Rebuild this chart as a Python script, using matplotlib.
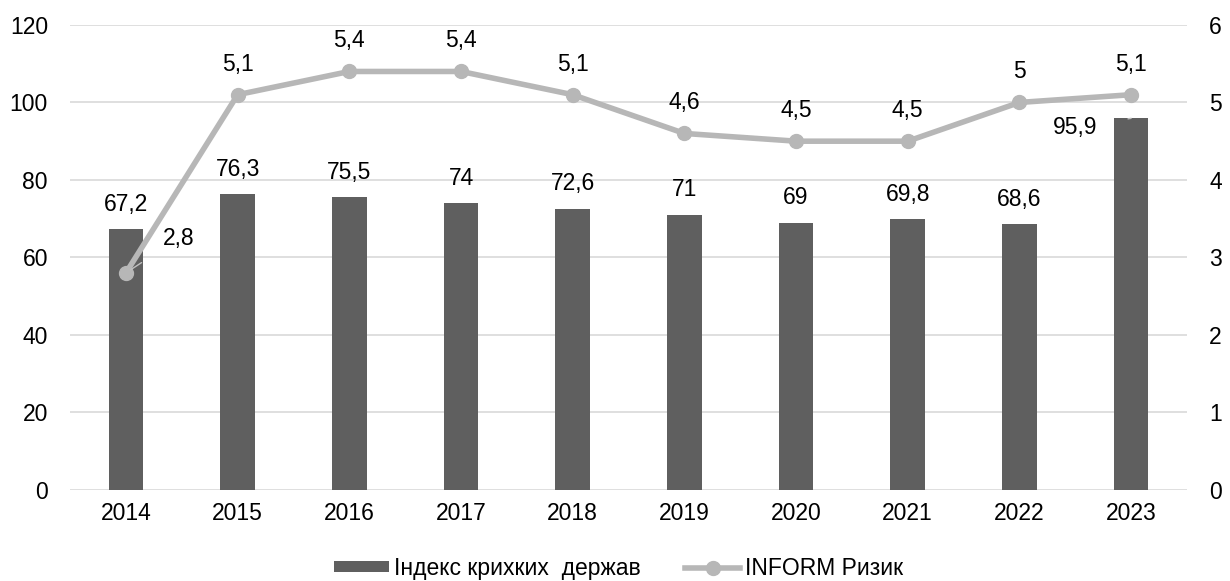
import matplotlib.pyplot as plt
from matplotlib.lines import Line2D
from matplotlib.patches import Patch

plt.rcParams["font.family"] = ["Liberation Sans", "DejaVu Sans"]

years = ["2014", "2015", "2016", "2017", "2018", "2019", "2020", "2021", "2022", "2023"]
fragile_index = [67.2, 76.3, 75.5, 74.0, 72.6, 71.0, 69.0, 69.8, 68.6, 95.9]
inform_risk = [2.8, 5.1, 5.4, 5.4, 5.1, 4.6, 4.5, 4.5, 5.0, 5.1]

BAR_COLOR = "#5f5f5f"
LINE_COLOR = "#b7b7b7"
GRID_COLOR = "#d9d9d9"
FS = 16.5


def fmt(v):
    s = f"{v:.1f}".rstrip("0").rstrip(".")
    return s.replace(".", ",")


fig = plt.figure(figsize=(12.3, 5.81), dpi=100)
ax = fig.add_axes([0.057, 0.157, 0.908, 0.8])
ax2 = ax.twinx()

x = list(range(len(years)))
ax.bar(x, fragile_index, width=0.31, color=BAR_COLOR, zorder=2)
ax.set_ylim(0, 120)
ax.set_yticks(range(0, 121, 20))
ax.set_xlim(-0.5, len(years) - 0.5)
ax.set_xticks(x)
ax.set_xticklabels(years)
ax.grid(axis="y", color=GRID_COLOR, linewidth=1.2, zorder=0)
ax.set_axisbelow(True)

ax2.plot(x, inform_risk, color=LINE_COLOR, linewidth=4, marker="o",
         markersize=10, zorder=3)
ax2.set_ylim(0, 6)
ax2.set_yticks(range(0, 7))

for a in (ax, ax2):
    for sp in a.spines.values():
        sp.set_visible(False)
    a.tick_params(length=0, labelsize=FS)
ax.tick_params(axis="x", pad=9)
ax.tick_params(axis="y", pad=16)
ax2.tick_params(axis="y", pad=16)

# bar value labels
for i, v in enumerate(fragile_index):
    if i == len(years) - 1:
        ax.annotate(fmt(v), xy=(i, v), xytext=(-40, -6.5), textcoords="offset points",
                    ha="center", va="center", fontsize=FS,
                    arrowprops=dict(arrowstyle="-", color="#bfbfbf", lw=1,
                                    shrinkA=20, shrinkB=0))
    else:
        ax.annotate(fmt(v), xy=(i, v), xytext=(0, 18), textcoords="offset points",
                    ha="center", va="center", fontsize=FS)

# line value labels
for i, v in enumerate(inform_risk):
    if i == 0:
        ax2.annotate(fmt(v), xy=(i, v), xytext=(38, 25), textcoords="offset points",
                     ha="center", va="center", fontsize=FS,
                     arrowprops=dict(arrowstyle="-", color="#bfbfbf", lw=1,
                                     shrinkA=16, shrinkB=4))
    else:
        ax2.annotate(fmt(v), xy=(i, v), xytext=(0, 22), textcoords="offset points",
                     ha="center", va="center", fontsize=FS)

handles = [
    Patch(facecolor=BAR_COLOR, edgecolor="none"),
    Line2D([0], [0], color=LINE_COLOR, linewidth=4, marker="o", markersize=10),
]
fig.legend(handles, ["Індекс крихких  держав", "INFORM Ризик"],
           loc="center", bbox_to_anchor=(0.503, 0.022), ncol=2, frameon=False,
           fontsize=FS, handlelength=2.4, handleheight=0.36, handletextpad=0.2,
           columnspacing=1.95, borderpad=0)

fig.savefig("out.png", dpi=100)
